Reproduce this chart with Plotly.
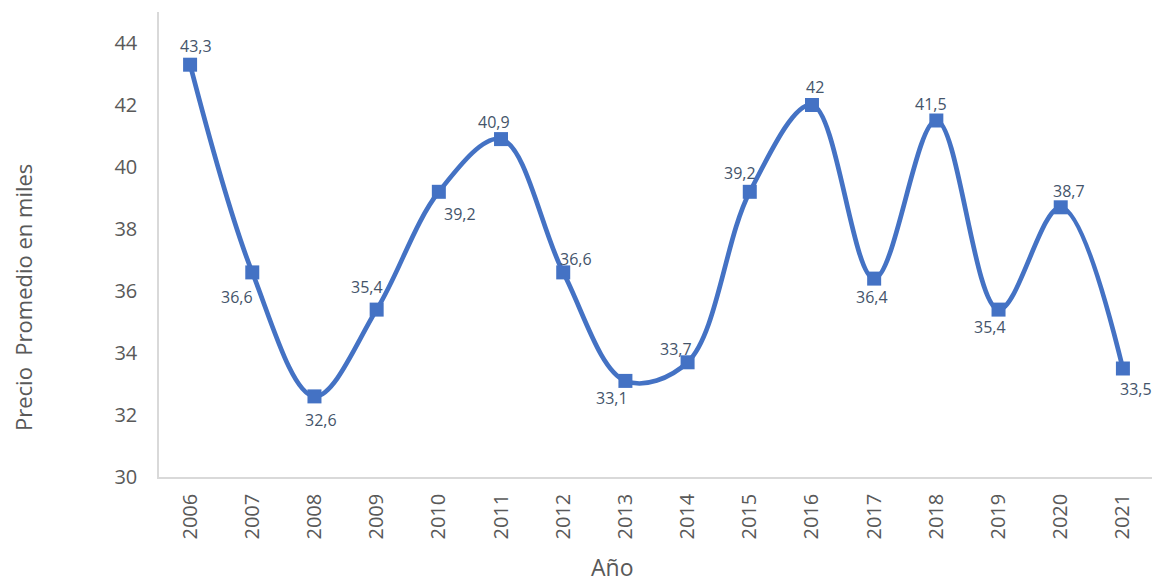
import plotly.graph_objects as go

years = ["2006","2007","2008","2009","2010","2011","2012","2013","2014","2015","2016","2017","2018","2019","2020","2021"]
prices = [43.3, 36.6, 32.6, 35.4, 39.2, 40.9, 36.6, 33.1, 33.7, 39.2, 42.0, 36.4, 41.5, 35.4, 38.7, 33.5]
labels = ["43,3","36,6","32,6","35,4","39,2","40,9","36,6","33,1","33,7","39,2","42","36,4","41,5","35,4","38,7","33,5"]
y_ticks = [30, 32, 34, 36, 38, 40, 42, 44]

# label offsets (pixels) relative to each marker: layout only
label_dx = [6, -15, 7, -10, 21, -7, 13, -13, -12, -10, 3, -2, -5, -9, 8, 13]
label_dy = [-19, 25, 24, -23, 22, -17, -13, 17, -13, -19, -18, 18, -17, 17, -16, 20]

FONT = "Open Sans, Liberation Sans, sans-serif"

# page body has an 8px margin: figure is sized/placed to compensate
OFF = 8
W, H = 1160 - OFF, 582 - OFF
L, T, R, B = 159 - OFF, 12 - OFF, 6, H - (477 - OFF)
PW, PH = W - L - R, H - T - B

fig = go.Figure()
fig.add_trace(go.Scatter(
    x=years, y=prices, mode="lines+markers",
    line=dict(color="#4472C4", width=4.7, shape="spline", smoothing=1.0),
    marker=dict(symbol="square", size=14, color="#4472C4"),
    cliponaxis=False,
    hoverinfo="x+y",
))

for i, (v, t, dx, dy) in enumerate(zip(prices, labels, label_dx, label_dy)):
    fig.add_annotation(
        x=i, y=v, xref="x", yref="y", text=t, showarrow=False,
        xshift=dx, yshift=-dy, borderpad=0,
        font=dict(family=FONT, size=16, color="#44546A"),
    )

# axis titles (pixel positions converted to paper coords)
fig.add_annotation(
    xref="paper", yref="paper", x=(23 - 159) / PW, y=(477 - 298) / PH,
    text="Precio  Promedio en miles", textangle=-90, showarrow=False,
    xanchor="center", yanchor="middle", borderpad=0,
    font=dict(family=FONT, size=22, color="#595959"),
)
fig.add_annotation(
    xref="paper", yref="paper", x=(612 - 159) / PW, y=(477 - 567) / PH,
    text="Año", showarrow=False, xanchor="center", yanchor="middle", borderpad=0,
    font=dict(family=FONT, size=23, color="#595959"),
)

fig.update_layout(
    width=W, height=H,
    margin=dict(l=L, r=R, t=T, b=B, autoexpand=False),
    paper_bgcolor="white", plot_bgcolor="white",
    showlegend=False,
    font=dict(family=FONT, color="#595959"),
)
fig.update_xaxes(
    type="category", range=[-0.5, 15.5], automargin=False,
    tickangle=-90, tickfont=dict(family=FONT, size=20, color="#595959"),
    showline=True, linecolor="#D9D9D9", linewidth=1.5,
    showgrid=False, ticks="", ticklen=0, ticklabelstandoff=7,
)
fig.update_yaxes(
    range=[30, 45], tickvals=y_ticks, automargin=False,
    tickfont=dict(family=FONT, size=20, color="#595959"),
    showline=True, linecolor="#D9D9D9", linewidth=1.5,
    showgrid=False, zeroline=False, ticks="", ticklen=0,
    ticklabelstandoff=16,
)

fig.write_html("out.html")
